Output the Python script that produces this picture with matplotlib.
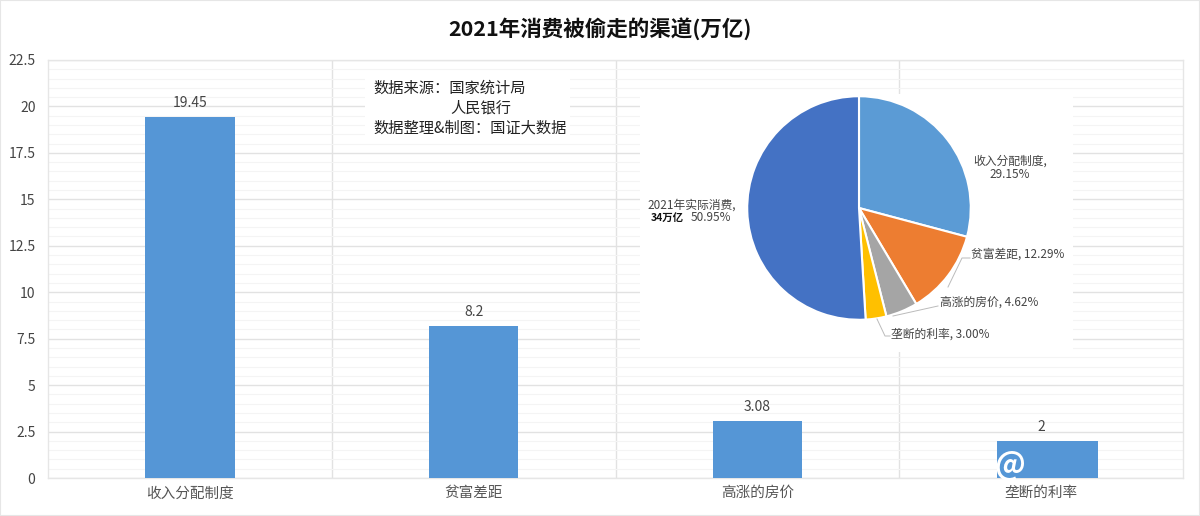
import matplotlib
matplotlib.use("Agg")
import matplotlib.pyplot as plt
from matplotlib.patches import Rectangle

plt.rcParams['font.family'] = ['Noto Sans CJK SC', 'DejaVu Sans']

W, H = 1200, 516

categories = ['收入分配制度', '贫富差距', '高涨的房价', '垄断的利率']
values = [19.45, 8.2, 3.08, 2]
value_labels = ['19.45', '8.2', '3.08', '2']
yticks = [0, 2.5, 5, 7.5, 10, 12.5, 15, 17.5, 20, 22.5]
ytick_labels = ['0', '2.5', '5', '7.5', '10', '12.5', '15', '17.5', '20', '22.5']
minor_ticks = [0.5, 1, 1.5, 2, 3, 3.5, 4, 4.5, 5.5, 6, 6.5, 7, 8, 8.5, 9, 9.5, 10.5, 11, 11.5, 12,
               13, 13.5, 14, 14.5, 15.5, 16, 16.5, 17, 18, 18.5, 19, 19.5, 20.5, 21, 21.5, 22]

pie_values = [29.15, 12.29, 4.62, 3.00, 50.95]
pie_colors = ['#5B9BD5', '#ED7D31', '#A5A5A5', '#FFC000', '#4472C4']


def box(x0, y0, x1, y1):
    # pixel box to figure coords
    return [x0 / W, 1 - y1 / H, (x1 - x0) / W, (y1 - y0) / H]


fig = plt.figure(figsize=(12, 5.16), dpi=100, facecolor='white')
ax = fig.add_axes(box(48, 60, 1183, 478))

x = range(len(categories))
bars = ax.bar(x, values, width=[0.315, 0.315, 0.315, 0.357], color='#5596D6', zorder=3)
bars[3].set_x(3 - 0.157)

ax.set_xlim(-0.5, 3.5)
ax.set_ylim(0, 22.5)
ax.set_yticks(yticks)
ax.set_yticklabels(ytick_labels, fontsize=10, color='#444444')
ax.set_yticks(minor_ticks, minor=True)
ax.set_xticks(list(x))
ax.set_xticklabels(categories, fontsize=10.5, color='#555555')
ax.tick_params(axis='both', which='both', length=0)
ax.tick_params(axis='x', pad=6)
ax.tick_params(axis='y', pad=9)

ax.grid(axis='y', which='major', color='#E2E2E2', linewidth=1, zorder=1)
ax.grid(axis='y', which='minor', color='#F4F4F4', linewidth=0.8, zorder=1)
for sep in [0.5, 1.5, 2.5]:
    ax.axvline(sep, color='#E2E2E2', linewidth=1, zorder=1)
for s in ax.spines.values():
    s.set_color('#E6E6E6')
    s.set_linewidth(1)

for i, v in enumerate(values):
    ax.text(i, v + 0.36, value_labels[i], ha='center', va='bottom', fontsize=10, color='#444444', zorder=4)

# white patch behind the pie
fig.add_artist(Rectangle((640 / W, 1 - 352 / H), 433 / W, 258 / H, transform=fig.transFigure,
                         facecolor='white', edgecolor='none', zorder=2))
# white patch behind the source note
fig.add_artist(Rectangle((365 / W, 1 - 140 / H), 205 / W, 66 / H, transform=fig.transFigure,
                         facecolor='white', edgecolor='none', zorder=2))

fig.text(600 / W, 1 - 29 / H, '2021年消费被偷走的渠道(万亿)', ha='center', va='center',
         fontsize=15.5, fontweight='bold', color='#111111', zorder=5)

fig.text(373 / W, 1 - 88 / H, '数据来源：国家统计局', va='center', fontsize=11, color='#222222', zorder=5)
fig.text(450 / W, 1 - 108 / H, '人民银行', va='center', fontsize=11, color='#222222', zorder=5)
fig.text(373 / W, 1 - 128 / H, '数据整理&制图：国证大数据', va='center', fontsize=11, color='#222222', zorder=5)

pie_ax = fig.add_axes(box(745, 94, 973, 322), zorder=6)
pie_ax.pie(pie_values, colors=pie_colors, startangle=90, counterclock=False, radius=1.0,
           wedgeprops={'edgecolor': 'white', 'linewidth': 1.5})
pie_ax.set_xlim(-1.02, 1.02)
pie_ax.set_ylim(-1.02, 1.02)

lab = dict(fontsize=8.5, color='#444444', zorder=7)
fig.text(1010 / W, 1 - 168 / H, '收入分配制度,\n29.15%', ha='center', va='center', linespacing=1.1, **lab)
fig.text(971 / W, 1 - 254 / H, '贫富差距, 12.29%', va='center', **lab)
fig.text(940 / W, 1 - 302 / H, '高涨的房价, 4.62%', va='center', **lab)
fig.text(891 / W, 1 - 334 / H, '垄断的利率, 3.00%', va='center', **lab)
fig.text(736 / W, 1 - 205 / H, '2021年实际消费,', ha='right', va='center', **lab)
fig.text(731 / W, 1 - 217 / H, '50.95%', ha='right', va='center', **lab)
fig.text(651 / W, 1 - 218 / H, '34万亿', va='center', fontsize=7.5, fontweight='bold', color='#111111', zorder=7)

# leader lines
line = dict(color='#BBBBBB', linewidth=0.7, transform=fig.transFigure, zorder=7)
fig.add_artist(plt.Line2D([948 / W, 962 / W, 970 / W], [1 - 287 / H, 1 - 258 / H, 1 - 258 / H], **line))
fig.add_artist(plt.Line2D([893 / W, 938 / W], [1 - 316 / H, 1 - 306 / H], **line))
fig.add_artist(plt.Line2D([877 / W, 885 / W, 890 / W], [1 - 319 / H, 1 - 336 / H, 1 - 336 / H], **line))

# watermark
fig.text(1010 / W, 1 - 464 / H, '@', ha='center', va='center', fontsize=22, fontweight='bold',
         color='white', zorder=8)

fig.add_artist(Rectangle((0, 0), 1, 1, transform=fig.transFigure, facecolor='none',
                         edgecolor='#E6E6E6', linewidth=1.5))

fig.savefig('out.png', dpi=100)
